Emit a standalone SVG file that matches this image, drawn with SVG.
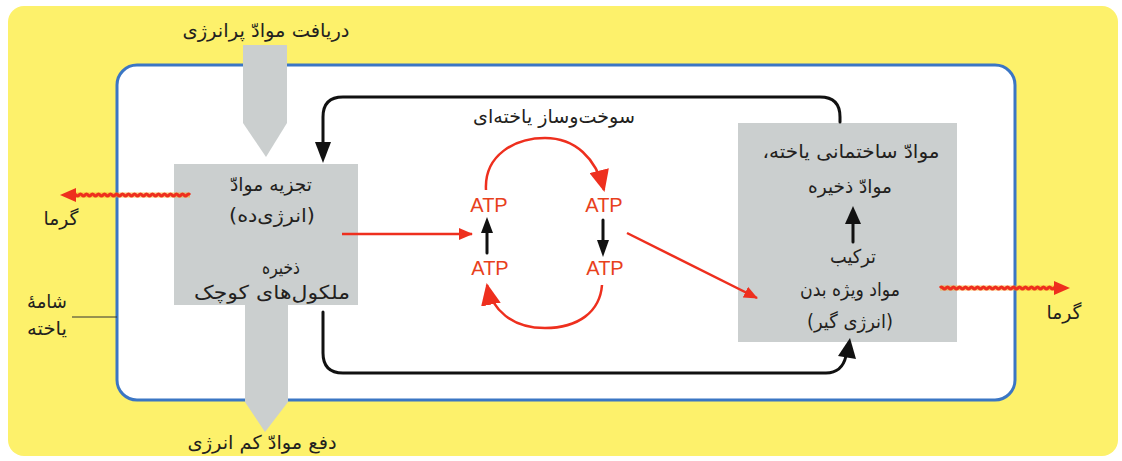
<svg xmlns="http://www.w3.org/2000/svg" width="1122" height="461" viewBox="0 0 1122 461">
<defs>
<style>
.fa{font-family:"DejaVu Sans","Noto Sans",sans-serif;font-size:19px;fill:#231f20;text-anchor:middle;direction:rtl}
.atp{font-family:"Liberation Sans",Arial,sans-serif;font-size:20px;fill:#e8401c;text-anchor:middle}
.gray{fill:#cbcfcf}
.blk{fill:none;stroke:#111;stroke-width:3;stroke-linecap:round}
.red{fill:none;stroke:#ee2f1e;stroke-width:2.5}
.heat{fill:none;stroke:#ee2f1e;stroke-width:3}
.heat2{fill:none;stroke:#f7a51f;stroke-width:5;opacity:0.6}
</style>
<marker id="rh" markerWidth="14" markerHeight="12" refX="13" refY="6" orient="auto" markerUnits="userSpaceOnUse">
<path d="M0,0 L14,6 L0,12 Z" fill="#ee2f1e"/>
</marker>
<marker id="rhb" markerWidth="22" markerHeight="20" refX="20" refY="10" orient="auto" markerUnits="userSpaceOnUse">
<path d="M0,0 L22,10 L0,20 Z" fill="#ee2f1e"/>
</marker>
</defs>
<rect x="8" y="6" width="1110" height="450" rx="16" fill="#fdf16b"/>
<rect x="117" y="65" width="898" height="335" rx="20" fill="#fff" stroke="#3b76c4" stroke-width="3"/>
<line x1="72" y1="317" x2="117" y2="317" stroke="#333" stroke-width="1"/>
<g id="node-intake">
<polygon class="gray" points="243,45 287,45 287,123 266,157 243,123"/>
<text class="fa" x="266" y="37" textLength="167" lengthAdjust="spacingAndGlyphs">دریافت موادّ پرانرژی</text>
</g>
<g id="node-excrete">
<polygon class="gray" points="245,300 288,300 288,402 265,432 245,402"/>
<text class="fa" x="262" y="449" textLength="149" lengthAdjust="spacingAndGlyphs">دفع موادّ کم انرژی</text>
</g>
<g id="node-breakdown">
<rect class="gray" x="174" y="164" width="184" height="141"/>
<text class="fa" x="271" y="191" textLength="82" lengthAdjust="spacingAndGlyphs">تجزیه موادّ</text>
<text class="fa" x="272" y="222" textLength="86" lengthAdjust="spacingAndGlyphs">(انرژی‌ده)</text>
<text class="fa" x="281" y="274" textLength="38" lengthAdjust="spacingAndGlyphs">ذخیره</text>
<text class="fa" x="272" y="299" textLength="156" lengthAdjust="spacingAndGlyphs">ملکول‌های کوچک</text>
</g>
<g id="node-synthesis">
<rect class="gray" x="738" y="123" width="219" height="219"/>
<text class="fa" x="851" y="158" textLength="177" lengthAdjust="spacingAndGlyphs">موادّ ساختمانی یاخته،</text>
<text class="fa" x="850" y="193" textLength="84" lengthAdjust="spacingAndGlyphs">موادّ ذخیره</text>
<text class="fa" x="853" y="263" textLength="46" lengthAdjust="spacingAndGlyphs">ترکیب</text>
<text class="fa" x="850" y="296" textLength="100" lengthAdjust="spacingAndGlyphs">مواد ویژه بدن</text>
<text class="fa" x="850" y="328" textLength="86" lengthAdjust="spacingAndGlyphs">(انرژی گیر)</text>
</g>
<g id="node-atp">
<text class="fa" x="554" y="123" textLength="162" lengthAdjust="spacingAndGlyphs">سوخت‌وساز یاخته‌ای</text>
<text class="atp" x="489" y="212">ATP</text>
<text class="atp" x="604" y="212">ATP</text>
<text class="atp" x="490" y="275">ATP</text>
<text class="atp" x="605" y="275">ATP</text>
</g>
<g id="labels">
<text class="fa" x="61" y="225" textLength="35" lengthAdjust="spacingAndGlyphs">گرما</text>
<text class="fa" x="1064" y="319" textLength="35" lengthAdjust="spacingAndGlyphs">گرما</text>
<text class="fa" x="47" y="308" textLength="40" lengthAdjust="spacingAndGlyphs">شامهٔ</text>
<text class="fa" x="47" y="335" textLength="40" lengthAdjust="spacingAndGlyphs">یاخته</text>
</g>
<g id="connectors">
<path class="blk" d="M840,122 V117 Q840,97 820,97 H343 Q323,97 323,117 V144"/>
<polygon points="315,142 331,142 323,163" fill="#111"/>
<path class="blk" d="M323,312 V353 Q323,373 343,373 H826 Q842,373 846,356"/>
<polygon points="838,356 856,359 850,338" fill="#111"/>
<line class="blk" x1="853" y1="242" x2="853" y2="222"/>
<polygon points="845,224 861,224 853,206" fill="#111"/>
<line class="blk" x1="487" y1="253" x2="487" y2="232"/>
<polygon points="481,233 493,233 487,217" fill="#111"/>
<line class="blk" x1="603" y1="220" x2="603" y2="241"/>
<polygon points="597,240 609,240 603,257" fill="#111"/>
<path class="red" d="M342,234 H472" marker-end="url(#rh)"/>
<path class="red" d="M627,233 L757,298" marker-end="url(#rh)"/>
<path class="red" stroke-width="3" d="M486,190 C484,155 515,138 545,138 C575,138 596,158 604,190" marker-end="url(#rhb)"/>
<path class="red" stroke-width="3" d="M602,285 C600,312 578,328 545,328 C512,328 492,310 487,285" marker-end="url(#rhb)"/>
<path class="heat2" d="M190,195 H74"/>
<path class="heat" d="M190,195 q-1.5,-2 -3,0 t-3,0 -3,0 -3,0 -3,0 -3,0 -3,0 -3,0 -3,0 -3,0 -3,0 -3,0 -3,0 -3,0 -3,0 -3,0 -3,0 -3,0 -3,0 -3,0 -3,0 -3,0 -3,0 -3,0 -3,0 -3,0 -3,0 -3,0 -3,0 -3,0 -3,0 -3,0 -3,0 -3,0 -3,0 -3,0 -3,0 -3,0 -3,0"/>
<polygon points="60,195 76,188 76,202" fill="#ee2f1e"/>
<path class="heat2" d="M940,288 H1056"/>
<path class="heat" d="M940,288 q1.5,-2 3,0 t3,0 3,0 3,0 3,0 3,0 3,0 3,0 3,0 3,0 3,0 3,0 3,0 3,0 3,0 3,0 3,0 3,0 3,0 3,0 3,0 3,0 3,0 3,0 3,0 3,0 3,0 3,0 3,0 3,0 3,0 3,0 3,0 3,0 3,0 3,0 3,0 3,0 3,0"/>
<polygon points="1070,288 1054,281 1054,295" fill="#ee2f1e"/>
</g>
</svg>
